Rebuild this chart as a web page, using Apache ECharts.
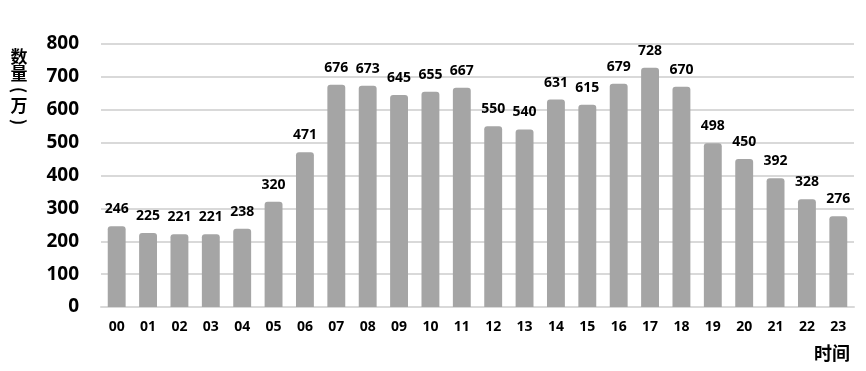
<!DOCTYPE html>
<html><head><meta charset="utf-8">
<script src="https://cdn.jsdelivr.net/npm/echarts@6/dist/echarts.min.js"></script>
<style>html,body{margin:0;padding:0;background:#fff}#c{width:866px;height:371px}</style>
</head><body><div id="c"></div>
<script>
const categories = ['00','01','02','03','04','05','06','07','08','09','10','11','12','13','14','15','16','17','18','19','20','21','22','23'];
const values = [246,225,221,221,238,320,471,676,673,645,655,667,550,540,631,615,679,728,670,498,450,392,328,276];
const yAxisTitleChars = ['数','量','(','万',')'];
const xAxisTitle = '时间';
const FONT = '"Open Sans","Noto Sans CJK SC",sans-serif';
const CJK = '"Noto Sans CJK SC",sans-serif';
const titleY = [57, 74, 90, 106, 122];
const chart = echarts.init(document.getElementById('c'));
chart.setOption({
  animation: false,
  grid: {left: 101, right: 12, top: 44, bottom: 64},
  xAxis: {
    type: 'category', data: categories,
    axisLine: {show: true, lineStyle: {color: '#d9d9d9', width: 2}},
    axisTick: {show: false},
    axisLabel: {color: '#000', fontWeight: 'bold', fontSize: 14, fontFamily: FONT, margin: 13},
    name: xAxisTitle, nameLocation: 'end', nameGap: 0,
    nameTextStyle: {color: '#000', fontWeight: 'bold', fontSize: 18, fontFamily: CJK, align: 'right', verticalAlign: 'top', padding: [37, 4, 0, 0]}
  },
  yAxis: {
    type: 'value', min: 0, max: 800, interval: 100,
    axisLine: {show: false}, axisTick: {show: false},
    splitLine: {lineStyle: {color: '#d9d9d9', width: 2}},
    axisLabel: {color: '#000', fontWeight: 'bold', fontSize: 19, fontFamily: FONT, margin: 22}
  },
  graphic: yAxisTitleChars.map((ch, i) => ({
    type: 'text', x: 19, y: titleY[i],
    rotation: (ch === '(' || ch === ')') ? -Math.PI / 2 : 0,
    style: {text: ch, fill: '#000', font: 'bold 17px ' + CJK, textAlign: 'center', textVerticalAlign: 'middle', align: 'center', verticalAlign: 'middle'}
  })),
  series: [{
    type: 'bar', data: values, barWidth: '57%',
    itemStyle: {color: '#a5a5a5', borderRadius: [3, 3, 0, 0]},
    label: {show: true, position: 'top', distance: 10, color: '#000', fontWeight: 'bold', fontSize: 14, fontFamily: FONT}
  }]
});
</script></body></html>
